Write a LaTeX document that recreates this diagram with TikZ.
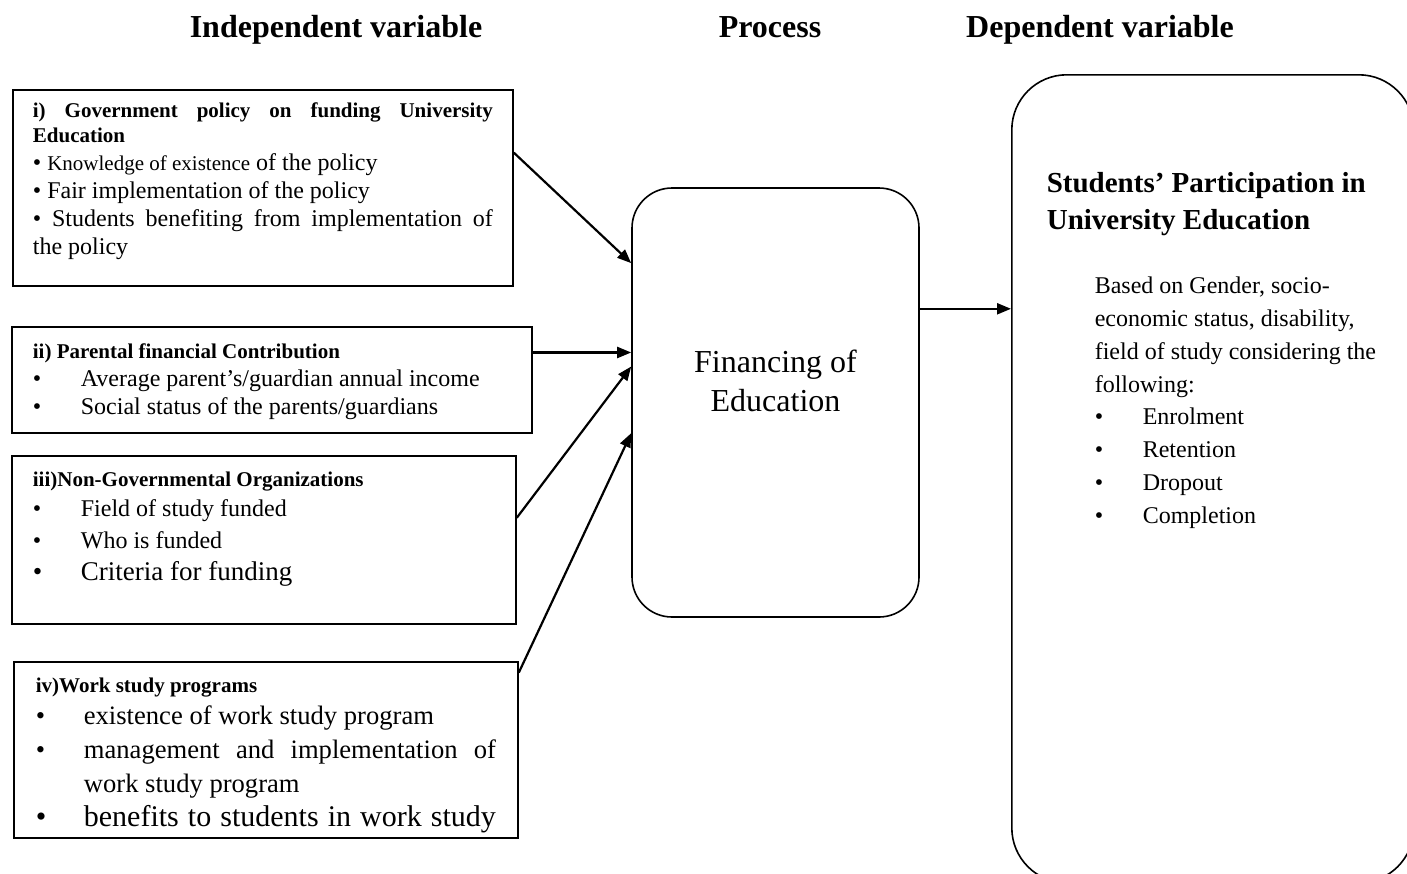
\documentclass[tikz,border=0pt]{standalone}
\usepackage{fontspec}
\setmainfont{Liberation Serif}
\usetikzlibrary{arrows.meta}

\hyphenpenalty=10000
\exhyphenpenalty=10000

\newcommand\bitem[1]{\par\noindent\hangindent=24pt\hangafter=1\hbox to 24pt{\textbullet\hfil}#1}

\tikzset{
  var/.style={draw, line width=0.9pt, anchor=north west, inner xsep=10.5pt, inner ysep=0pt},
  round/.style={draw, line width=0.8pt, inner sep=0pt},
  link/.style={-{Triangle[length=7pt,width=5.5pt]}, line width=1.1pt},
  head/.style={font=\fontsize{16}{19}\selectfont\bfseries, anchor=base}
}

\begin{document}
\begin{tikzpicture}[x=0.5pt, y=-0.5pt]
  \useasboundingbox (0,0) rectangle (1407,873);
  \clip (0,0) rectangle (1407,873);

  \node[head] (hindep) at (336,37) {Independent variable};
  \node[head] (hproc) at (770,37) {Process};
  \node[head] (hdep) at (1100,37) {Dependent variable};

  \node[var, inner xsep=10pt] (gov) at (12,89) {\parbox[c][98pt][t]{230pt}{%
    \fontsize{10.5}{12.5}\selectfont\bfseries\rule{0pt}{14pt}i) Government policy on funding University Education\par
    \fontsize{12}{14}\selectfont\mdseries
    \textbullet\ {\fontsize{10.5}{14}\selectfont Knowledge of existence} of the policy\par
    \textbullet\ Fair implementation of the policy\par
    \textbullet\ Students benefiting from implementation of\linebreak the policy}};

  \node[var] (parent) at (11,326) {\parbox[c][53pt][t]{239pt}{%
    \fontsize{10.5}{12.5}\selectfont\bfseries\rule{0pt}{16pt}ii) Parental financial Contribution\par
    \fontsize{12}{14}\selectfont\mdseries
    \bitem{Average parent’s/guardian annual income}
    \bitem{Social status of the parents/guardians}}};

  \node[var] (ngo) at (11,455) {\parbox[c][84pt][t]{231pt}{%
    \fontsize{10.5}{12.5}\selectfont\bfseries\rule{0pt}{15.5pt}iii)Non-Governmental Organizations\par
    \fontsize{12}{14}\selectfont\mdseries
    \bitem{Field of study funded}
    \fontsize{12}{15}\selectfont\bitem{Who is funded}
    \fontsize{13.5}{16}\selectfont\bitem{Criteria for funding}}};

  \node[var, inner xsep=11pt] (work) at (13,661) {\parbox[c][88pt][t]{230pt}{%
    \fontsize{10.5}{12.5}\selectfont\bfseries\rule{0pt}{15.5pt}iv)Work study programs\par
    \fontsize{13.3}{14}\selectfont\mdseries
    \bitem{existence of work study program}
    \fontsize{13.3}{16}\selectfont\bitem{management and implementation of\linebreak work study program}
    \fontsize{15}{17}\selectfont\bitem{\parfillskip=0pt benefits to students in work study}}};

  \node[round, rounded corners=20pt, minimum width=143.5pt, minimum height=214.5pt,
        font=\fontsize{16}{19.5}\selectfont] (fin) at (775.5,402.5)
    {\begin{tabular}{@{}c@{}}Financing of\\Education\\[18pt]\end{tabular}};

  \node[round, rounded corners=27.5pt, anchor=north west, inner xsep=17.5pt] (part) at (1011,74)
    {\parbox[c][404pt][t]{166pt}{\raggedright
    \fontsize{14.5}{18.5}\selectfont\bfseries\rule{0pt}{59pt}Students’ Participation in\\University Education\par
    \vspace{15.5pt}
    \fontsize{12}{16.4}\selectfont\mdseries\leftskip=24pt
    Based on Gender, socio-\\economic status, disability,\\field of study considering the\\following:\par
    \bitem{Enrolment}\bitem{Retention}\bitem{Dropout}\bitem{Completion}}};

  \path[link]
    (gov.8) edge (fin.136)
    (parent.6) edge (parent.6 -| fin.west)
    (ngo.5) edge (fin.166)
    (work.17) edge (fin.192)
    (fin.33) edge (fin.33 -| part.west);
\end{tikzpicture}
\end{document}
